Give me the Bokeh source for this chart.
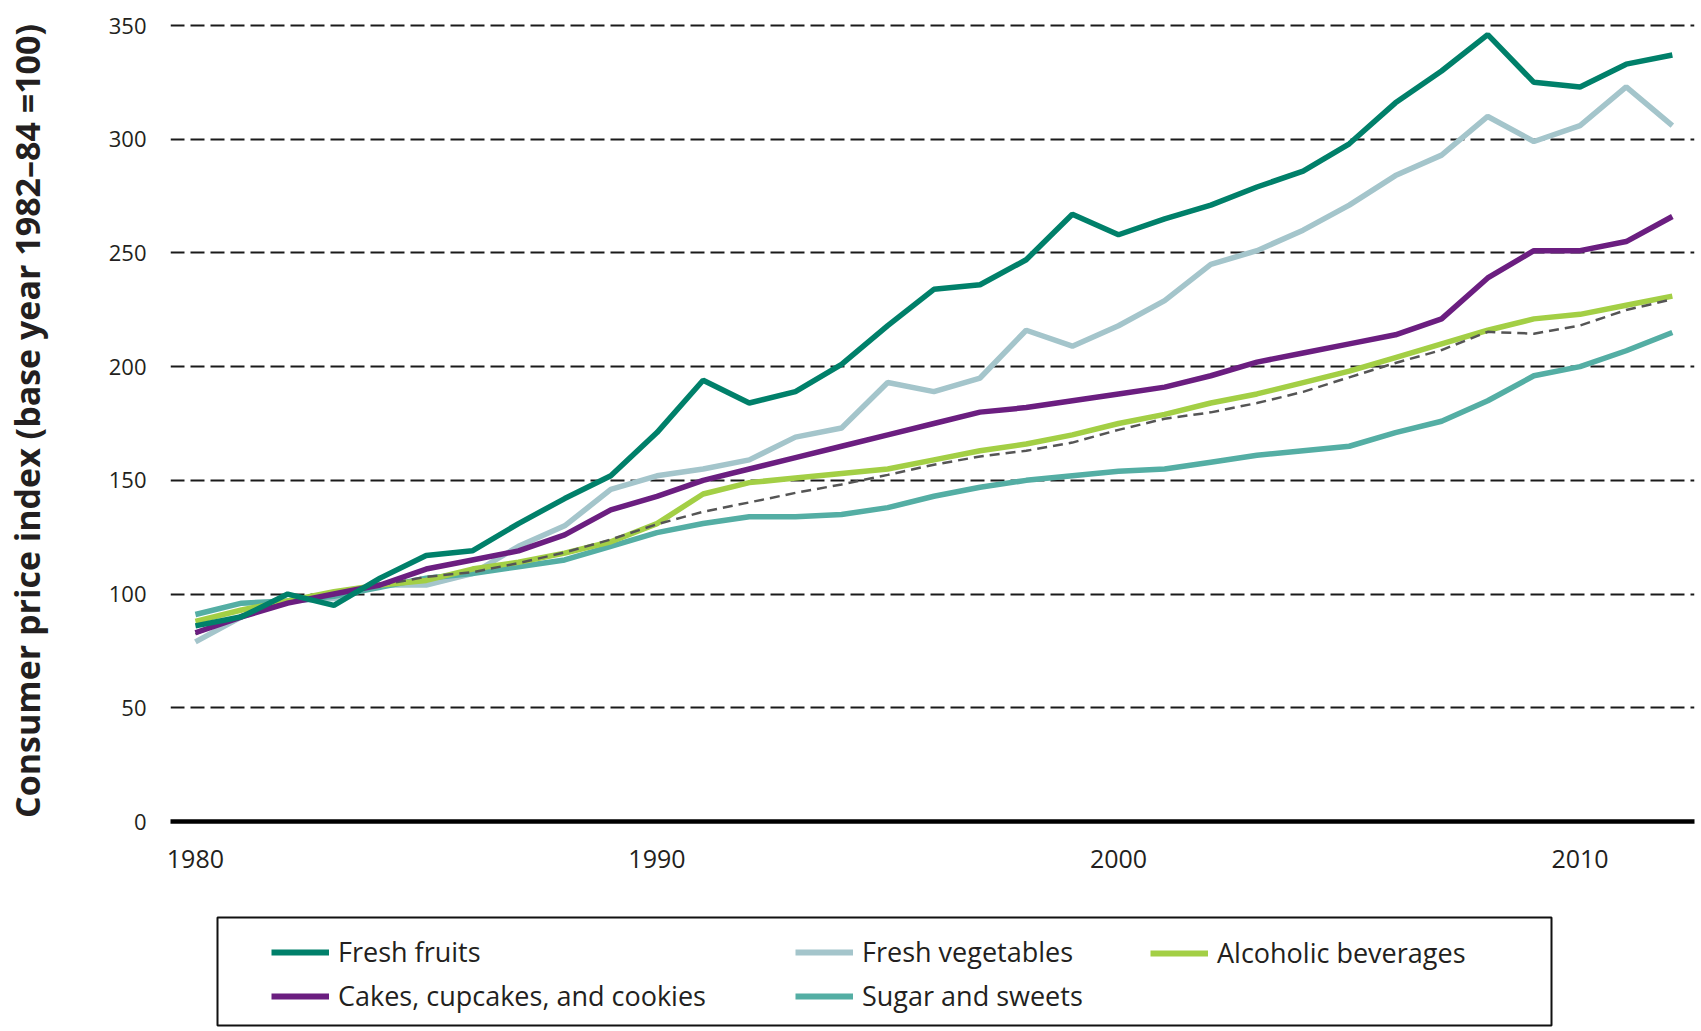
from bokeh.plotting import figure
from bokeh.models import Range1d, Legend, LegendItem, FixedTicker
from bokeh.layouts import column
from bokeh.embed import file_html
from bokeh.resources import INLINE

years = list(range(1980, 2013))

fresh_fruits = [86, 90, 100, 95, 107, 117, 119, 131, 142, 152, 171, 194, 184, 189, 201, 218,
                234, 236, 247, 267, 258, 265, 271, 279, 286, 298, 316, 330, 346, 325, 323, 333, 337]
fresh_vegetables = [79, 90, 97, 98, 104, 104, 109, 121, 130, 146, 152, 155, 159, 169, 173, 193,
                    189, 195, 216, 209, 218, 229, 245, 251, 260, 271, 284, 293, 310, 299, 306, 323, 306]
cakes = [83, 90, 96, 100, 104, 111, 115, 119, 126, 137, 143, 150, 155, 160, 165, 170,
         175, 180, 182, 185, 188, 191, 196, 202, 206, 210, 214, 221, 239, 251, 251, 255, 266]
alcoholic = [88, 93, 97, 101, 104, 106, 111, 114, 118, 123, 131, 144, 149, 151, 153, 155,
             159, 163, 166, 170, 175, 179, 184, 188, 193, 198, 204, 210, 216, 221, 223, 227, 231]
sugar = [91, 96, 97, 99, 103, 107, 109, 112, 115, 121, 127, 131, 134, 134, 135, 138,
         143, 147, 150, 152, 154, 155, 158, 161, 163, 165, 171, 176, 185, 196, 200, 207, 215]
all_items = [82.4, 90.9, 96.5, 99.6, 103.9, 107.6, 109.6, 113.6, 118.3, 124.0, 130.7, 136.2,
             140.3, 144.5, 148.2, 152.4, 156.9, 160.5, 163.0, 166.6, 172.2, 177.1, 179.9, 184.0,
             188.9, 195.3, 201.6, 207.3, 215.3, 214.5, 218.1, 224.9, 229.6]

# legend columns as in the reference
legend_columns = [["Fresh fruits", "Cakes, cupcakes, and cookies"],
                  ["Fresh vegetables", "Sugar and sweets"],
                  ["Alcoholic beverages"]]
series_colors = {"Fresh fruits": "#00806a", "Cakes, cupcakes, and cookies": "#6b1e80",
                 "Fresh vegetables": "#a4c5cb", "Sugar and sweets": "#54aea4",
                 "Alcoholic beverages": "#a3cf45"}

y_ticks = [0, 50, 100, 150, 200, 250, 300, 350]
x_ticks = [1980, 1990, 2000, 2010]

TEXT = "#231f20"
FONT = "Open Sans"
LW = 5.5

p = figure(width=1701, height=905, output_backend="svg", toolbar_location=None,
           x_range=Range1d(1979.46, 2012.48), y_range=Range1d(0, 352.2),
           min_border_left=165, min_border_right=7, min_border_top=20, min_border_bottom=84,
           background_fill_color="white", border_fill_color="white", frame_align=False)
p.outline_line_color = None
p.xgrid.visible = False

p.yaxis.ticker = FixedTicker(ticks=y_ticks)
p.xaxis.ticker = FixedTicker(ticks=x_ticks)
p.ygrid.grid_line_color = "#1a1a1a"
p.ygrid.grid_line_width = 2.2
p.ygrid.grid_line_dash = "14 6"

p.yaxis.axis_line_color = None
p.yaxis.major_tick_line_color = None
p.yaxis.minor_tick_line_color = None
p.yaxis.major_tick_out = 0
p.yaxis.major_tick_in = 0
p.yaxis.major_label_standoff = 24
p.yaxis.major_label_text_font = FONT
p.yaxis.major_label_text_font_size = "22px"
p.yaxis.major_label_text_color = TEXT
p.yaxis.axis_label = "Consumer price index (base year 1982\u201384 =100)"
p.yaxis.axis_label_text_font = FONT
p.yaxis.axis_label_text_font_size = "34px"
p.yaxis.axis_label_text_font_style = "bold"
p.yaxis.axis_label_text_color = TEXT
p.yaxis.axis_label_standoff = 56

p.xaxis.axis_line_color = "black"
p.xaxis.axis_line_width = 4.5
p.xaxis.major_tick_line_color = None
p.xaxis.minor_tick_line_color = None
p.xaxis.major_tick_out = 0
p.xaxis.major_tick_in = 0
p.xaxis.major_label_standoff = 28
p.xaxis.major_label_text_font = FONT
p.xaxis.major_label_text_font_size = "25px"
p.xaxis.major_label_text_color = TEXT

p.line(years, fresh_vegetables, line_color=series_colors["Fresh vegetables"], line_width=LW)
p.line(years, sugar, line_color=series_colors["Sugar and sweets"], line_width=LW)
p.line(years, alcoholic, line_color=series_colors["Alcoholic beverages"], line_width=LW)
p.line(years, all_items, line_color="#555555", line_width=2.5, line_dash="10 6")
p.line(years, cakes, line_color=series_colors["Cakes, cupcakes, and cookies"], line_width=LW)
p.line(years, fresh_fruits, line_color=series_colors["Fresh fruits"], line_width=LW)

# Legend panel: a separate figure whose frame outline is the legend box
lg = figure(width=1701, height=126, output_backend="svg", toolbar_location=None,
            x_range=Range1d(0, 1), y_range=Range1d(0, 1),
            x_axis_location=None, y_axis_location=None,
            min_border_left=217, min_border_right=150, min_border_top=12, min_border_bottom=6,
            background_fill_color="white", border_fill_color="white", frame_align=False)
lg.outline_line_color = "#111111"
lg.outline_line_width = 2
lg.grid.visible = False

nan = float("nan")
col_x = [54, 578, 933]
col_y = [11, 11, 54]
for labels, vx, vy in zip(legend_columns, col_x, col_y):
    items = []
    for lab in labels:
        r = lg.line(x=[nan], y=[nan], line_color=series_colors[lab], line_width=6)
        items.append(LegendItem(label=lab, renderers=[r]))
    leg = Legend(items=items, location=(vx, vy))
    leg.label_text_font = FONT
    leg.label_text_font_size = "27px"
    leg.label_text_color = TEXT
    leg.glyph_width = 58
    leg.glyph_height = 30
    leg.label_standoff = 9
    leg.padding = 0
    leg.spacing = 7
    leg.border_line_color = None
    leg.background_fill_alpha = 0
    lg.add_layout(leg)

layout = column(p, lg, spacing=0)
open("out.html", "w").write(file_html(layout, INLINE))
